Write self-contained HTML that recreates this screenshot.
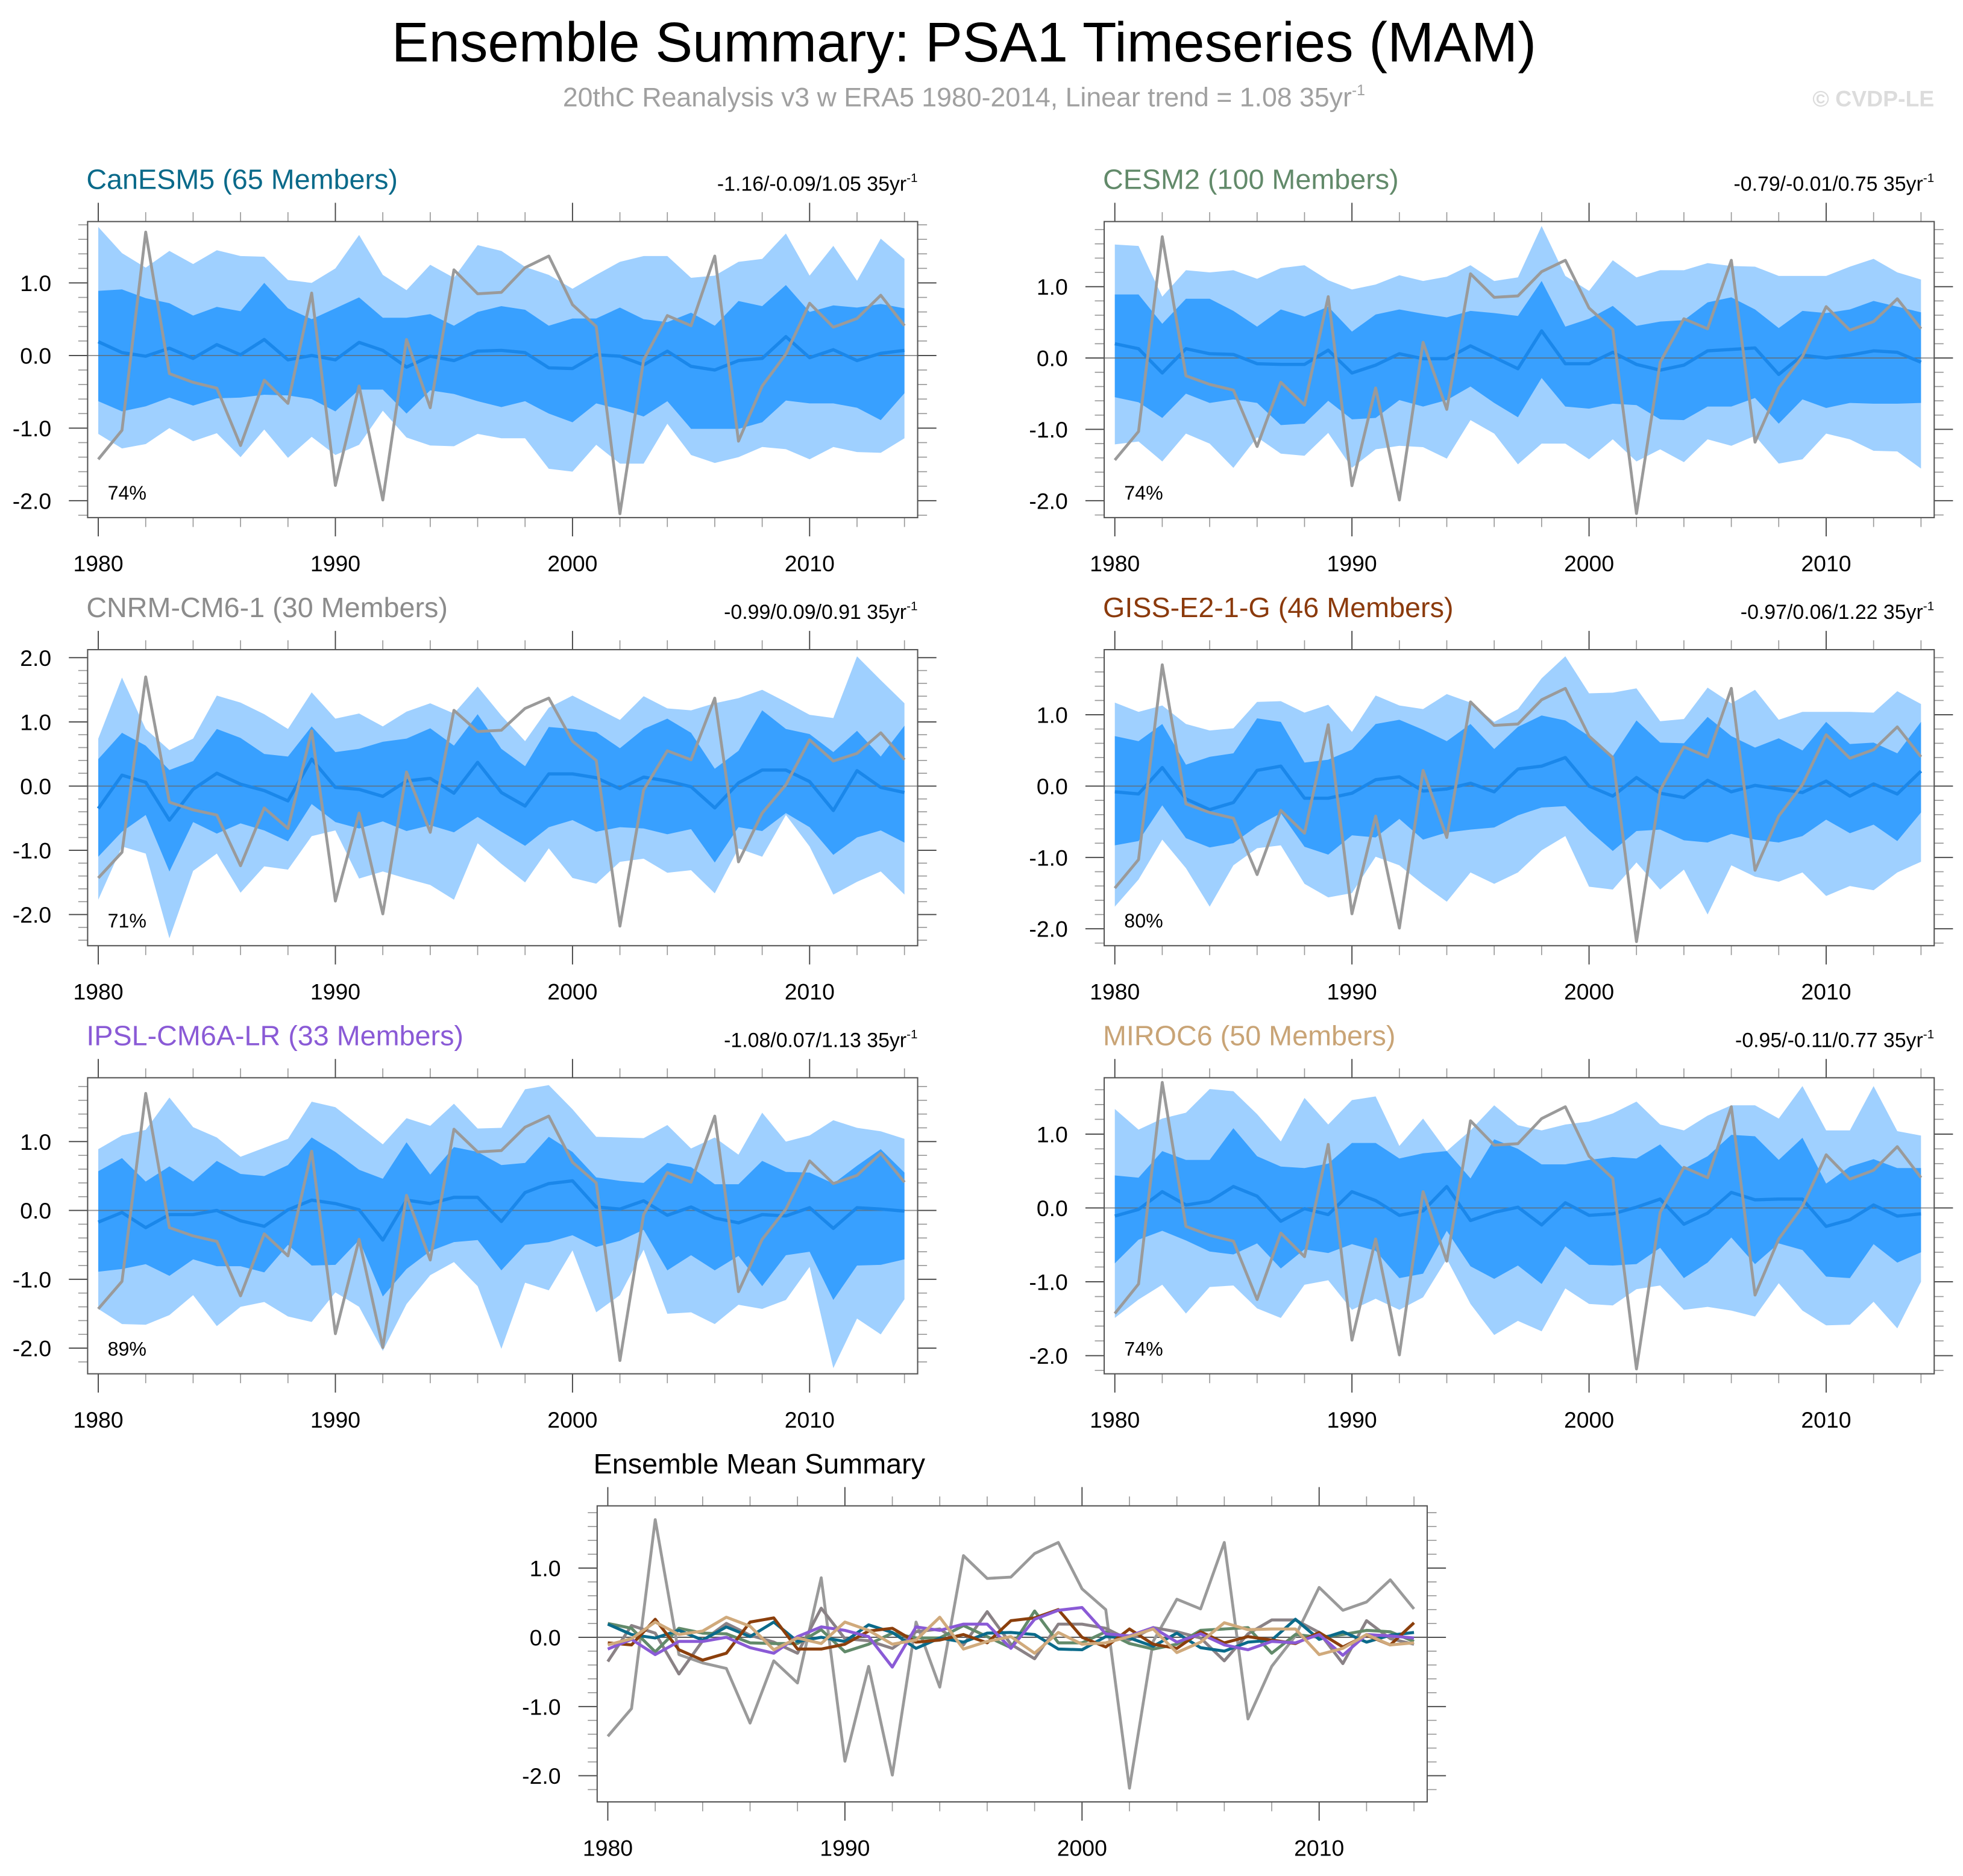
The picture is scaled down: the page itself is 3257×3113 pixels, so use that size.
<!DOCTYPE html>
<html><head><meta charset="utf-8"><title>Ensemble Summary: PSA1 Timeseries (MAM)</title>
<style>
html,body{margin:0;padding:0;background:#fff;}
svg{display:block;font-family:"Liberation Sans",Arial,sans-serif;}
</style></head>
<body>
<svg id="fig" xmlns="http://www.w3.org/2000/svg" width="3257" height="3113" viewBox="0 0 1568 1498.7" preserveAspectRatio="none">
<rect x="0" y="0" width="1568" height="1499" fill="#fff"/>
<text x="770" y="49" font-size="44.6" text-anchor="middle" fill="#000">Ensemble Summary: PSA1 Timeseries (MAM)</text>
<text x="770" y="85" font-size="21.5" text-anchor="middle" fill="#a0a0a0">20thC Reanalysis v3 w ERA5 1980-2014, Linear trend = 1.08 35yr<tspan font-size="12" dy="-9">-1</tspan></text>
<text x="1545" y="85" font-size="18" font-weight="bold" text-anchor="end" fill="#dcdcdc">© CVDP-LE</text>
<g id="panels"></g>
</svg>
<script>
// ---- data ----
const years = [1980,1981,1982,1983,1984,1985,1986,1987,1988,1989,1990,1991,1992,1993,1994,1995,1996,1997,1998,1999,2000,2001,2002,2003,2004,2005,2006,2007,2008,2009,2010,2011,2012,2013,2014];
const obs = [-1.43,-1.03,1.70,-0.25,-0.37,-0.45,-1.24,-0.34,-0.66,0.86,-1.79,-0.42,-1.99,0.22,-0.72,1.18,0.85,0.87,1.21,1.37,0.70,0.40,-2.18,-0.06,0.55,0.41,1.37,-1.18,-0.42,0.02,0.72,0.39,0.51,0.83,0.41];
const xTickLabels = ["1980","1990","2000","2010"];
const yTickLabelsStd = [1.0,0.0,-1.0,-2.0];
const yTickLabelsCnrm = [2.0,1.0,0.0,-1.0,-2.0];

const canOuterHi = [1.77,1.41,1.21,1.44,1.26,1.45,1.37,1.36,1.04,1.0,1.2,1.66,1.11,0.9,1.25,1.07,1.52,1.44,1.22,1.11,0.92,1.11,1.29,1.37,1.37,1.07,1.1,1.29,1.33,1.68,1.1,1.51,1.03,1.61,1.33];
const canInnerHi = [0.89,0.91,0.79,0.72,0.55,0.67,0.61,1.0,0.65,0.5,0.65,0.8,0.52,0.52,0.57,0.41,0.6,0.68,0.63,0.41,0.51,0.51,0.66,0.5,0.46,0.59,0.41,0.75,0.68,0.97,0.6,0.69,0.66,0.71,0.65];
const canMean = [0.19,0.04,-0.01,0.1,-0.04,0.15,0.01,0.22,-0.06,0,-0.06,0.18,0.07,-0.16,-0.01,-0.07,0.06,0.07,0.04,-0.17,-0.18,0.01,-0.01,-0.13,0.06,-0.15,-0.2,-0.07,-0.04,0.26,-0.03,0.08,-0.07,0.03,0.07];
const canInnerLo = [-0.63,-0.77,-0.7,-0.58,-0.69,-0.59,-0.58,-0.54,-0.55,-0.6,-0.77,-0.47,-0.47,-0.8,-0.48,-0.53,-0.63,-0.71,-0.63,-0.8,-0.92,-0.66,-0.74,-0.84,-0.63,-1.01,-1.01,-1.01,-0.92,-0.62,-0.66,-0.66,-0.72,-0.89,-0.52];
const canOuterLo = [-1.08,-1.28,-1.22,-1.0,-1.18,-1.07,-1.4,-1.02,-1.41,-1.12,-1.37,-1.23,-0.76,-1.13,-1.24,-1.25,-1.08,-1.14,-1.14,-1.56,-1.6,-1.23,-1.49,-1.49,-0.94,-1.37,-1.48,-1.4,-1.26,-1.29,-1.43,-1.26,-1.33,-1.34,-1.14];

const cesOuterHi = [1.59,1.57,0.86,1.23,1.2,1.23,1.11,1.26,1.3,1.09,0.96,1.03,1.16,1.08,1.14,1.3,1.08,1.13,1.85,1.15,0.94,1.37,1.13,1.23,1.23,1.33,1.29,1.28,1.15,1.15,1.15,1.28,1.39,1.2,1.1];
const cesInnerHi = [0.89,0.89,0.48,0.83,0.83,0.66,0.44,0.68,0.58,0.72,0.37,0.61,0.68,0.62,0.57,0.66,0.63,0.59,1.08,0.44,0.55,0.73,0.45,0.51,0.53,0.78,0.85,0.68,0.42,0.66,0.63,0.68,0.8,0.72,0.64];
const cesMean = [0.2,0.13,-0.21,0.13,0.06,0.05,-0.08,-0.09,-0.09,0.11,-0.21,-0.1,0.06,-0.01,-0.01,0.17,0.01,-0.15,0.38,-0.08,-0.08,0.08,-0.09,-0.17,-0.1,0.1,0.12,0.14,-0.23,0.04,0.0,0.04,0.1,0.08,-0.06];
const cesInnerLo = [-0.55,-0.62,-0.84,-0.5,-0.63,-0.58,-0.63,-0.94,-0.92,-0.6,-0.86,-0.84,-0.59,-0.68,-0.59,-0.4,-0.63,-0.83,-0.28,-0.68,-0.71,-0.64,-0.66,-0.86,-0.87,-0.68,-0.68,-0.56,-0.92,-0.58,-0.7,-0.63,-0.64,-0.64,-0.63];
const cesOuterLo = [-1.21,-1.17,-1.45,-1.06,-1.2,-1.54,-1.11,-1.34,-1.37,-1.05,-1.54,-1.28,-1.23,-1.25,-1.41,-0.87,-1.06,-1.49,-1.2,-1.2,-1.42,-1.14,-1.45,-1.28,-1.46,-1.14,-1.23,-1.09,-1.48,-1.42,-1.06,-1.14,-1.3,-1.31,-1.55];

const cnrOuterHi = [0.74,1.69,0.89,0.56,0.74,1.41,1.3,1.12,0.89,1.46,1.05,1.13,0.93,1.16,1.29,1.13,1.55,1.1,0.7,1.22,1.41,1.22,1.03,1.4,1.21,1.18,1.29,1.37,1.5,1.31,1.11,1.06,2.02,1.65,1.29];
const cnrInnerHi = [0.42,0.83,0.63,0.25,0.39,0.89,0.75,0.5,0.46,0.93,0.53,0.58,0.69,0.74,0.9,0.63,1.12,0.58,0.31,0.92,0.89,0.84,0.59,0.89,1.05,0.83,0.27,0.55,1.18,0.89,0.81,0.53,0.86,0.46,0.94];
const cnrMean = [-0.35,0.17,0.06,-0.53,-0.05,0.2,0.03,-0.07,-0.23,0.42,-0.02,-0.05,-0.16,0.08,0.12,-0.11,0.37,-0.1,-0.31,0.19,0.19,0.13,-0.04,0.14,0.08,-0.01,-0.34,0.05,0.25,0.25,0.07,-0.38,0.24,-0.02,-0.1];
const cnrInnerLo = [-1.1,-0.71,-0.45,-1.33,-0.56,-0.74,-0.58,-0.69,-0.86,-0.28,-0.56,-0.66,-0.55,-0.7,-0.61,-0.72,-0.48,-0.71,-0.93,-0.64,-0.53,-0.71,-0.64,-0.66,-0.75,-0.67,-1.19,-0.64,-0.7,-0.42,-0.64,-1.07,-0.8,-0.69,-0.88];
const cnrOuterLo = [-1.77,-0.94,-1.05,-2.37,-1.32,-1.05,-1.66,-1.25,-1.3,-0.78,-0.69,-1.44,-1.33,-1.44,-1.54,-1.77,-0.89,-1.21,-1.5,-0.97,-1.43,-1.52,-1.18,-1.13,-1.35,-1.31,-1.67,-0.97,-1.1,-0.45,-0.94,-1.69,-1.49,-1.33,-1.69];

const gisOuterHi = [1.17,1.04,1.13,0.87,0.78,0.81,1.18,1.19,1.03,1.14,0.76,1.27,1.13,1.08,1.29,1.17,0.9,1.08,1.51,1.82,1.3,1.31,1.37,0.91,0.94,1.38,1.16,1.35,0.93,1.04,1.04,1.04,1.03,1.33,1.15];
const gisInnerHi = [0.7,0.63,0.87,0.3,0.41,0.46,0.95,0.9,0.33,0.37,0.51,0.87,0.93,0.79,0.63,0.87,0.52,0.83,0.99,0.92,0.7,0.42,0.92,0.61,0.6,0.97,0.7,0.54,0.67,0.5,0.9,0.59,0.61,0.46,0.9];
const gisMean = [-0.08,-0.11,0.26,-0.18,-0.33,-0.23,0.22,0.28,-0.17,-0.17,-0.1,0.09,0.13,-0.07,-0.04,0.04,-0.08,0.24,0.28,0.4,0.0,-0.14,0.12,-0.1,-0.16,0.08,-0.08,0.01,-0.04,-0.09,0.07,-0.14,0.03,-0.11,0.21];
const gisInnerLo = [-0.83,-0.77,-0.27,-0.73,-0.86,-0.8,-0.56,-0.38,-0.85,-0.96,-0.69,-0.72,-0.46,-0.75,-0.65,-0.61,-0.58,-0.41,-0.3,-0.28,-0.62,-0.91,-0.63,-0.61,-0.76,-0.79,-0.67,-0.75,-0.79,-0.7,-0.47,-0.66,-0.54,-0.77,-0.37];
const gisOuterLo = [-1.69,-1.31,-0.75,-1.15,-1.69,-1.11,-0.87,-0.83,-1.37,-1.56,-1.5,-0.99,-1.11,-1.38,-1.62,-1.21,-1.37,-1.21,-0.9,-0.7,-1.41,-1.45,-1.07,-1.45,-1.17,-1.8,-1.11,-1.27,-1.34,-1.21,-1.54,-1.4,-1.46,-1.21,-1.06];

const ipsOuterHi = [0.89,1.09,1.17,1.64,1.21,1.06,0.78,0.91,1.04,1.58,1.5,1.23,0.96,1.34,1.23,1.55,1.19,1.2,1.76,1.82,1.47,1.07,1.06,1.05,1.24,0.9,1.06,0.81,1.42,1.0,1.09,1.31,1.2,1.15,1.04];
const ipsInnerHi = [0.57,0.76,0.42,0.64,0.42,0.72,0.53,0.5,0.66,1.06,0.85,0.59,0.46,0.99,0.52,0.92,0.85,0.66,0.69,1.07,0.85,0.48,0.43,0.4,0.69,0.63,0.38,0.38,0.72,0.56,0.55,0.39,0.65,0.89,0.55];
const ipsMean = [-0.17,-0.03,-0.25,-0.06,-0.06,0.0,-0.15,-0.23,0.01,0.15,0.1,0.01,-0.43,0.15,0.1,0.19,0.19,-0.16,0.26,0.39,0.43,0.05,0.02,0.14,-0.07,0.05,-0.11,-0.18,-0.06,-0.08,0.04,-0.26,0.04,0.02,-0.01];
const ipsInnerLo = [-0.89,-0.85,-0.78,-0.95,-0.71,-0.81,-0.81,-0.9,-0.5,-0.8,-0.79,-0.43,-1.25,-0.85,-0.59,-0.46,-0.43,-0.87,-0.5,-0.46,-0.36,-0.53,-0.44,-0.28,-0.87,-0.65,-0.87,-0.66,-1.1,-0.65,-0.6,-1.3,-0.8,-0.79,-0.71];
const ipsOuterLo = [-1.43,-1.65,-1.66,-1.52,-1.23,-1.68,-1.4,-1.33,-1.54,-1.62,-1.19,-1.4,-2.04,-1.36,-0.94,-0.75,-1.1,-2.01,-1.05,-1.16,-0.58,-1.48,-1.23,-0.57,-1.5,-1.48,-1.65,-1.37,-1.43,-1.3,-0.82,-2.29,-1.57,-1.8,-1.29];

const mirOuterHi = [1.34,1.06,1.21,1.29,1.61,1.58,1.27,0.9,1.49,1.13,1.46,1.51,0.84,1.21,0.77,1.05,1.39,1.12,1.05,1.13,1.17,1.28,1.44,1.13,1.05,1.25,1.39,1.39,1.21,1.65,1.05,1.05,1.65,1.04,0.98];
const mirInnerHi = [0.44,0.41,0.77,0.65,0.65,1.08,0.7,0.56,0.54,0.6,0.88,0.88,0.67,0.74,0.77,0.4,0.93,0.8,0.59,0.59,0.65,0.69,0.67,0.86,0.53,0.7,0.99,0.97,0.65,0.95,0.33,0.56,0.66,0.54,0.54];
const mirMean = [-0.11,-0.02,0.22,0.04,0.09,0.29,0.16,-0.18,-0.01,-0.09,0.22,0.1,-0.1,-0.04,0.29,-0.17,-0.06,0.01,-0.23,0.07,-0.1,-0.08,0.01,0.12,-0.22,-0.07,0.21,0.11,0.12,0.12,-0.25,-0.16,0.04,-0.11,-0.08];
const mirInnerLo = [-0.75,-0.43,-0.31,-0.44,-0.59,-0.63,-0.48,-0.82,-0.56,-0.61,-0.49,-0.58,-0.95,-0.89,-0.31,-0.79,-0.96,-0.78,-1.03,-0.52,-0.77,-0.78,-0.76,-0.54,-0.95,-0.74,-0.4,-0.76,-0.48,-0.57,-0.93,-0.95,-0.49,-0.74,-0.6];
const mirOuterLo = [-1.49,-1.24,-1.04,-1.43,-1.07,-1.05,-1.36,-1.49,-1.04,-0.98,-1.38,-1.23,-1.38,-1.21,-0.69,-1.3,-1.72,-1.53,-1.67,-1.09,-1.3,-1.32,-1.1,-1.05,-1.38,-1.34,-1.39,-1.47,-1.02,-1.39,-1.59,-1.58,-1.27,-1.63,-1.0];

const modelNames = ["CanESM5 (65 Members)","CESM2 (100 Members)","CNRM-CM6-1 (30 Members)","GISS-E2-1-G (46 Members)","IPSL-CM6A-LR (33 Members)","MIROC6 (50 Members)"];
const trendText = ["-1.16/-0.09/1.05 35yr","-0.79/-0.01/0.75 35yr","-0.99/0.09/0.91 35yr","-0.97/0.06/1.22 35yr","-1.08/0.07/1.13 35yr","-0.95/-0.11/0.77 35yr"];
const pctText = ["74%","74%","71%","80%","89%","74%"];

// ---- layout (not data) ----
const NS = "http://www.w3.org/2000/svg";
const root = document.getElementById('panels');
function el(tag, attrs, parent){
  const e = document.createElementNS(NS, tag);
  for (const k in attrs) e.setAttribute(k, attrs[k]);
  (parent||root).appendChild(e);
  return e;
}
const modelColors = ["#0a6a8a","#628a6a","#8c8c8c","#8b3a0c","#8a5ad6","#c9a476"];
const meanSummaryColors = ["#0a6a8a","#628a6a","#8a8286","#8b3f0c","#8a5ad6","#d0aa7c"];
const panelsLayout = [
  {bx:70, top:177, bot:413.5, zero:284, upu:58, ticks:yTickLabelsStd},
  {bx:882,top:177, bot:413.5, zero:286, upu:57, ticks:yTickLabelsStd},
  {bx:70, top:519, bot:755.5, zero:628, upu:51.3, ticks:yTickLabelsCnrm},
  {bx:882,top:519, bot:755.5, zero:628, upu:57, ticks:yTickLabelsStd},
  {bx:70, top:861, bot:1097.5, zero:967, upu:55, ticks:yTickLabelsStd},
  {bx:882,top:861, bot:1097.5, zero:965, upu:59, ticks:yTickLabelsStd}
];
const bandData = [
  [canOuterHi,canInnerHi,canMean,canInnerLo,canOuterLo],
  [cesOuterHi,cesInnerHi,cesMean,cesInnerLo,cesOuterLo],
  [cnrOuterHi,cnrInnerHi,cnrMean,cnrInnerLo,cnrOuterLo],
  [gisOuterHi,gisInnerHi,gisMean,gisInnerLo,gisOuterLo],
  [ipsOuterHi,ipsInnerHi,ipsMean,ipsInnerLo,ipsOuterLo],
  [mirOuterHi,mirInnerHi,mirMean,mirInnerLo,mirOuterLo]
];
const BOXW = 663, PXYR = 18.94, XOFF = 8.5;

function axes(g, L){
  const xs = yr => L.bx + XOFF + (yr-1980)*PXYR;
  const ys = v => L.zero - v*L.upu;
  const right = L.bx + BOXW;
  for (let yr=1980; yr<=2014; yr+=2){
    const major = (yr%10===0);
    const len = major?15:7.5;
    const x = xs(yr);
    el('line',{x1:x,y1:L.top,x2:x,y2:L.top-len,stroke:major?'#444':'#999','stroke-width':major?0.9:0.8},g);
    el('line',{x1:x,y1:L.bot,x2:x,y2:L.bot+len,stroke:major?'#444':'#999','stroke-width':major?0.9:0.8},g);
  }
  const vTop = (L.zero-L.top)/L.upu, vBot = (L.zero-L.bot)/L.upu;
  for (let k=Math.ceil(vBot*5-1e-6); k<=Math.floor(vTop*5+1e-6); k++){
    const v = k/5, major = (k%5===0);
    const len = major?15:7.5, y = ys(v);
    el('line',{x1:L.bx,y1:y,x2:L.bx-len,y2:y,stroke:major?'#444':'#999','stroke-width':major?0.9:0.8},g);
    el('line',{x1:right,y1:y,x2:right+len,y2:y,stroke:major?'#444':'#999','stroke-width':major?0.9:0.8},g);
  }
  xTickLabels.forEach(t=>{
    const tx = el('text',{x:xs(+t),y:L.bot+43,'font-size':18,'text-anchor':'middle',fill:'#000'},g);
    tx.textContent = t;
    
    
  });
  L.ticks.forEach(v=>{
    const tx = el('text',{x:L.bx-29,y:ys(v)+6.5,'font-size':18,'text-anchor':'end',fill:'#000'},g);
    tx.textContent = v.toFixed(1);
    
    
  });
  return {xs, ys, right};
}

function pts(arr, xs, ys){ return arr.map((v,i)=>xs(years[i]).toFixed(2)+','+ys(v).toFixed(2)); }

panelsLayout.forEach((L,p)=>{
  const g = el('g',{});
  
  
  const clipId = 'clip'+p;
  const cp = el('clipPath',{id:clipId},g);
  el('rect',{x:L.bx,y:L.top,width:BOXW,height:L.bot-L.top},cp);
  const {xs, ys, right} = axes(g, L);
  const d = bandData[p];
  const plot = el('g',{'clip-path':'url(#'+clipId+')'},g);
  const outer = el('polygon',{points:pts(d[0],xs,ys).concat(pts(d[4],xs,ys).reverse()).join(' '),fill:'#9fd0ff'},plot);
  
  
  const inner = el('polygon',{points:pts(d[1],xs,ys).concat(pts(d[3],xs,ys).reverse()).join(' '),fill:'#38a0ff'},plot);
  
  
  el('line',{x1:L.bx,y1:ys(0),x2:right,y2:ys(0),stroke:'#666','stroke-width':0.9,opacity:0.7},plot);
  const ml = el('polyline',{points:pts(d[2],xs,ys).join(' '),fill:'none',stroke:'#1a87ea','stroke-width':2.6,'stroke-linejoin':'round'},plot);
  
  
  const ol = el('polyline',{points:pts(obs,xs,ys).join(' '),fill:'none',stroke:'#9a9a9a','stroke-width':2.3,'stroke-linejoin':'round'},plot);
  
  
  el('rect',{x:L.bx,y:L.top,width:BOXW,height:L.bot-L.top,fill:'none',stroke:'#555','stroke-width':1},g);
  const title = el('text',{x:L.bx-1,y:L.top-26,'font-size':22.5,fill:modelColors[p]},g);
  title.textContent = modelNames[p];
  
  
  const tr = el('text',{x:right,y:L.top-24.5,'font-size':16.3,'text-anchor':'end',fill:'#000'},g);
  tr.textContent = trendText[p];
  const sup = el('tspan',{'font-size':10,dy:-7},tr);
  sup.textContent = '-1';
  
  
  const pc = el('text',{x:L.bx+16,y:L.bot-14.5,'font-size':15.5,fill:'#000'},g);
  pc.textContent = pctText[p];
  
  
});

// bottom summary panel
(function(){
  const L = {bx:477, top:1203, bot:1439.5, zero:1308, upu:55.3, ticks:yTickLabelsStd};
  const g = el('g',{});
  
  
  const {xs, ys, right} = axes(g, L);
  el('line',{x1:L.bx,y1:ys(0),x2:right,y2:ys(0),stroke:'#555','stroke-width':1},g);
  const ol = el('polyline',{points:pts(obs,xs,ys).join(' '),fill:'none',stroke:'#9a9a9a','stroke-width':2.3,'stroke-linejoin':'round'},g);
  
  
  const order = [2,1,0,3,4,5];
  order.forEach(p=>{
    const l = el('polyline',{points:pts(bandData[p][2],xs,ys).join(' '),fill:'none',stroke:meanSummaryColors[p],'stroke-width':2.4,'stroke-linejoin':'round'},g);
    
    
  });
  el('rect',{x:L.bx,y:L.top,width:BOXW,height:L.bot-L.top,fill:'none',stroke:'#555','stroke-width':1},g);
  const t = el('text',{x:474,y:1177,'font-size':22.5,fill:'#000'},g);
  t.textContent = 'Ensemble Mean Summary';
  
  
})();
</script>
</body></html>
